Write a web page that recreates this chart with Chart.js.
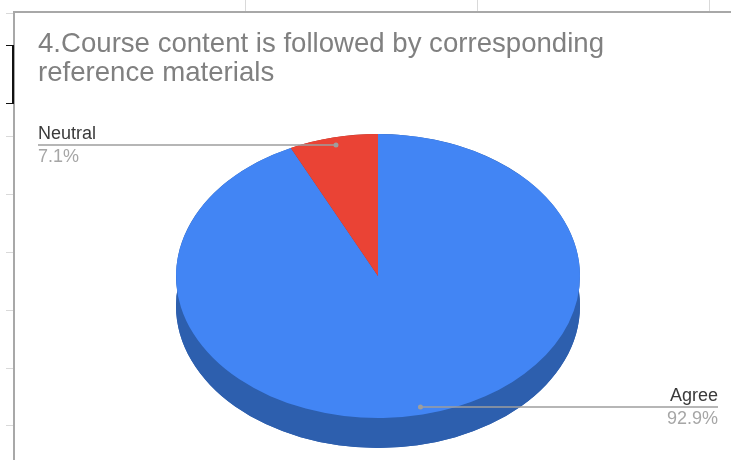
<!DOCTYPE html>
<html>
<head>
<meta charset="utf-8">
<script src="https://cdn.jsdelivr.net/npm/chart.js@4"></script>
<style>
  html, body { margin: 0; padding: 0; background: #fff; }
  canvas { display: block; filter: blur(0.45px); }
</style>
</head>
<body>
<canvas id="pie" width="731" height="460"></canvas>
<script>
// DATA
const categories = ['Agree', 'Neutral'];
const shares = [92.9, 7.1];
const titleLines = ['4.Course content is followed by corresponding', 'reference materials'];
const topColors = ['#4285f4', '#ea4335'];
const sideColors = ['#2d5fae', '#a32f25'];

// 3D look: top face is squashed into an ellipse, side sits below it
const center = { x: 378, y: 276 };
const rx = 202, ry = 142, depth = 30;

// spreadsheet bits behind the chart
const sheetBackdrop = {
  id: 'sheetBackdrop',
  beforeDraw(chart) {
    const ctx = chart.ctx;
    ctx.save();
    ctx.fillStyle = '#fff';
    ctx.fillRect(0, 0, chart.width, chart.height);
    ctx.fillStyle = '#d9d9d9';
    [245, 477, 709].forEach(x => ctx.fillRect(x, 0, 1, 11));
    [13, 136, 194, 252, 310, 368, 425].forEach(y => ctx.fillRect(6, y, 7, 1));
    ctx.fillStyle = '#a8a8a8';
    ctx.fillRect(13, 11, 2, 449);
    ctx.fillRect(13, 11, 718, 2);
    ctx.fillStyle = '#111';
    ctx.fillRect(6, 45, 7, 1);
    ctx.fillRect(6, 103, 7, 1);
    ctx.fillRect(12, 45, 2, 59);
    ctx.restore();
  }
};

const squashedPie = {
  id: 'squashedPie',
  beforeDatasetsDraw(chart) {
    const ctx = chart.ctx;
    const arcs = chart.getDatasetMeta(0).data;
    const arc = arcs[0];
    const r = arc.outerRadius;
    const drop = depth * r / ry;
    ctx.save();
    ctx.translate(center.x, center.y);
    ctx.scale(rx / r, ry / r);
    ctx.translate(-arc.x, -arc.y);
    // side wall, the pie itself is drawn on top with this same transform
    arcs.forEach((a, i) => {
      ctx.fillStyle = sideColors[i];
      ctx.beginPath();
      ctx.moveTo(a.x, a.y + drop);
      ctx.arc(a.x, a.y + drop, r, a.startAngle, a.endAngle);
      ctx.closePath();
      ctx.fill();
      ctx.beginPath();
      ctx.arc(a.x, a.y + drop, r, a.startAngle, a.endAngle);
      ctx.arc(a.x, a.y, r, a.endAngle, a.startAngle, true);
      ctx.closePath();
      ctx.fill();
    });
  },
  afterDatasetsDraw(chart) {
    chart.ctx.restore();
  }
};

// callout line with the name above and the percentage under it
const callouts = {
  id: 'callouts',
  afterDraw(chart) {
    const ctx = chart.ctx;
    const arcs = chart.getDatasetMeta(0).data;
    const ends = [718, 38];
    const aligns = ['right', 'left'];
    const reach = [0.95, 0.94];
    arcs.forEach((arc, i) => {
      const mid = (arc.startAngle + arc.endAngle) / 2;
      const px = center.x + Math.cos(mid) * rx * reach[i];
      const py = Math.round(center.y + Math.sin(mid) * ry * reach[i]) - 1;
      ctx.save();
      ctx.strokeStyle = '#9e9e9e';
      ctx.lineWidth = 1.5;
      ctx.beginPath();
      ctx.moveTo(px, py);
      ctx.lineTo(ends[i], py);
      ctx.stroke();
      ctx.fillStyle = '#9e9e9e';
      ctx.beginPath();
      ctx.arc(px, py, 2.5, 0, Math.PI * 2);
      ctx.fill();
      ctx.textAlign = aligns[i];
      ctx.textBaseline = 'alphabetic';
      ctx.font = '18px "Liberation Sans", Arial, sans-serif';
      ctx.fillStyle = '#3a3a3a';
      ctx.fillText(categories[i], ends[i], py - 6);
      ctx.fillStyle = '#a6a6a6';
      ctx.fillText(shares[i] + '%', ends[i], py + 17);
      ctx.restore();
    });
  }
};

new Chart(document.getElementById('pie').getContext('2d'), {
  type: 'pie',
  data: {
    labels: categories,
    datasets: [{
      data: shares,
      backgroundColor: topColors,
      borderWidth: 0
    }]
  },
  options: {
    responsive: false,
    animation: false,
    layout: { padding: { left: 38, right: 13, top: 0, bottom: 0 } },
    plugins: {
      legend: { display: false },
      tooltip: { enabled: false },
      title: {
        display: true,
        text: titleLines,
        align: 'start',
        color: '#808080',
        font: { family: '"Liberation Sans", Arial, sans-serif', size: 27.6, weight: 'normal', lineHeight: 1.06 },
        padding: { top: 30, bottom: 10 }
      }
    }
  },
  plugins: [sheetBackdrop, squashedPie, callouts]
});
</script>
</body>
</html>
